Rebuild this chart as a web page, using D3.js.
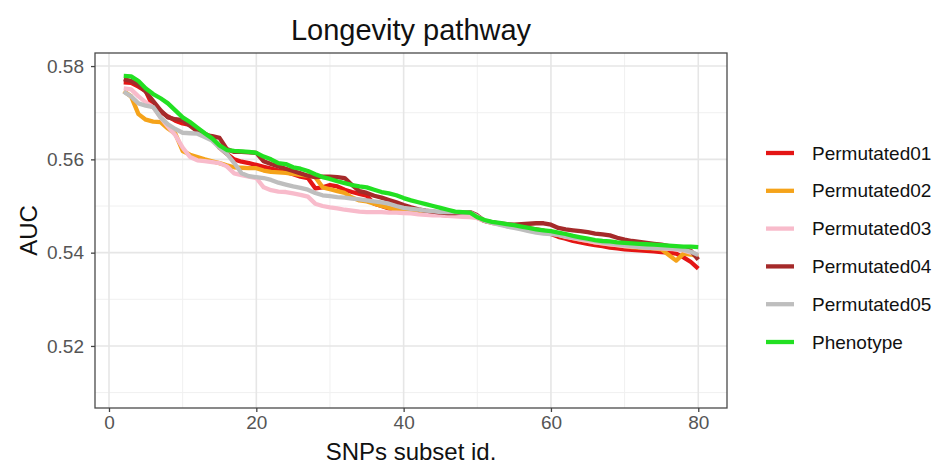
<!DOCTYPE html>
<html>
<head>
<meta charset="utf-8">
<script src="https://cdn.jsdelivr.net/npm/d3@7"></script>
<style>
  html, body { margin: 0; padding: 0; background: #fff; }
  svg { display: block; font-family: "Liberation Sans", Arial, Helvetica, sans-serif; }
</style>
</head>
<body>
<svg id="chart" width="951" height="466"></svg>
<script>
// ---- data ----
const title = "Longevity pathway";
const xLabel = "SNPs subset id.";
const yLabel = "AUC";
const subsetIds = d3.range(2, 81); // 2..80
const xTicks = [0, 20, 40, 60, 80];
const yTicks = [0.52, 0.54, 0.56, 0.58];
const seriesNames = ["Permutated01", "Permutated02", "Permutated03", "Permutated04", "Permutated05", "Phenotype"];
const seriesColors = ["#E41515", "#F5A31A", "#F8BBCB", "#A52A2A", "#BEBEBE", "#22E022"];

const permutated01 = [.5765,.5764,.5756,.5746,.5712,.5702,.5692,.5683,.5677,.5674,.5665,.5655,.5647,.5625,.5612,.5600,.5595,.5592,.5588,.5584,.5580,.5576,.5573,.5568,.5563,.5560,.5538,.5540,.5545,.5542,.5535,.5530,.5526,.5522,.5505,.5500,.5495,.5492,.5490,.5488,.5486,.5485,.5483,.5481,.5480,.5480,.5480,.5480,.5475,.5468,.5465,.5462,.5459,.5456,.5454,.5452,.5450,.5447,.5440,.5434,.5430,.5425,.5422,.5419,.5416,.5414,.5411,.5409,.5407,.5406,.5405,.5404,.5403,.5401,.5400,.5398,.5390,.5380,.5366];
const permutated02 = [.5746,.5735,.5697,.5685,.5681,.5680,.5666,.5655,.5618,.5610,.5605,.5600,.5596,.5592,.5587,.5583,.5582,.5581,.5581,.5576,.5573,.5572,.5571,.5569,.5567,.5565,.5562,.5540,.5536,.5532,.5528,.5518,.5512,.5510,.5505,.5500,.5496,.5492,.5489,.5487,.5486,.5485,.5484,.5484,.5483,.5482,.5481,.5480,.5476,.5468,.5464,.5461,.5458,.5455,.5452,.5450,.5448,.5446,.5443,.5439,.5435,.5431,.5428,.5425,.5422,.5420,.5418,.5416,.5414,.5412,.5411,.5410,.5409,.5407,.5395,.5383,.5398,.5396,.5392];
const permutated03 = [.5752,.5750,.5735,.5722,.5712,.5690,.5670,.5652,.5625,.5605,.5598,.5596,.5594,.5592,.5585,.5570,.5566,.5563,.5560,.5540,.5534,.5531,.5530,.5527,.5524,.5520,.5505,.5500,.5497,.5495,.5492,.5490,.5488,.5487,.5487,.5487,.5486,.5486,.5485,.5484,.5482,.5481,.5480,.5480,.5479,.5478,.5477,.5476,.5474,.5468,.5464,.5461,.5458,.5455,.5452,.5449,.5447,.5445,.5442,.5438,.5434,.5431,.5428,.5425,.5422,.5420,.5418,.5416,.5414,.5413,.5412,.5411,.5410,.5409,.5408,.5407,.5405,.5400,.5395];
const permutated04 = [.5772,.5768,.5760,.5745,.5725,.5705,.5690,.5686,.5684,.5672,.5660,.5652,.5650,.5646,.5622,.5616,.5616,.5615,.5614,.5596,.5590,.5585,.5580,.5575,.5570,.5565,.5562,.5563,.5563,.5562,.5560,.5545,.5532,.5528,.5522,.5518,.5513,.5508,.5502,.5497,.5493,.5490,.5488,.5486,.5485,.5485,.5486,.5487,.5480,.5468,.5465,.5463,.5461,.5460,.5461,.5462,.5463,.5463,.5460,.5453,.5450,.5448,.5446,.5444,.5441,.5439,.5437,.5432,.5428,.5425,.5423,.5421,.5419,.5417,.5414,.5412,.5409,.5404,.5385];
const permutated05 = [.5745,.5735,.5720,.5715,.5712,.5690,.5675,.5665,.5657,.5656,.5655,.5648,.5640,.5625,.5612,.5592,.5570,.5564,.5562,.5560,.5556,.5550,.5546,.5542,.5539,.5535,.5528,.5523,.5521,.5519,.5518,.5516,.5514,.5512,.5510,.5508,.5505,.5500,.5496,.5494,.5492,.5490,.5489,.5487,.5487,.5487,.5486,.5486,.5478,.5468,.5464,.5460,.5456,.5453,.5450,.5446,.5443,.5441,.5440,.5438,.5435,.5432,.5430,.5428,.5425,.5422,.5420,.5418,.5416,.5414,.5412,.5411,.5410,.5410,.5409,.5408,.5406,.5402,.5395];
const phenotype = [.5779,.5778,.5768,.5752,.5740,.5731,.5720,.5705,.5690,.5680,.5668,.5656,.5645,.5630,.5620,.5618,.5617,.5616,.5614,.5606,.5600,.5592,.5590,.5583,.5580,.5575,.5568,.5562,.5558,.5553,.5549,.5545,.5542,.5540,.5535,.5530,.5527,.5523,.5517,.5512,.5508,.5504,.5500,.5496,.5492,.5488,.5487,.5486,.5476,.5470,.5466,.5464,.5461,.5459,.5456,.5453,.5450,.5448,.5446,.5443,.5440,.5436,.5433,.5430,.5427,.5425,.5424,.5422,.5421,.5420,.5419,.5418,.5417,.5416,.5415,.5414,.5413,.5413,.5412];

const seriesValues = [permutated01, permutated02, permutated03, permutated04, permutated05, phenotype];

// ---- layout ----
const svg = d3.select("#chart");
const panel = { left: 95, right: 727, top: 53, bottom: 408 };

const x = d3.scaleLinear().domain([-1.9, 83.9]).range([panel.left, panel.right]);
const y = d3.scaleLinear().domain([0.5067, 0.5828]).range([panel.bottom, panel.top]);

const g = svg.append("g");

g.append("rect")
  .attr("x", panel.left).attr("y", panel.top)
  .attr("width", panel.right - panel.left).attr("height", panel.bottom - panel.top)
  .attr("fill", "#fff");

// minor grid
const xMinor = [10, 30, 50, 70];
const yMinor = [0.51, 0.53, 0.55, 0.57];
g.selectAll(".xminor").data(xMinor).enter().append("line")
  .attr("x1", d => x(d)).attr("x2", d => x(d))
  .attr("y1", panel.top).attr("y2", panel.bottom)
  .attr("stroke", "#F0F0F0").attr("stroke-width", 1);
g.selectAll(".yminor").data(yMinor).enter().append("line")
  .attr("y1", d => y(d)).attr("y2", d => y(d))
  .attr("x1", panel.left).attr("x2", panel.right)
  .attr("stroke", "#F0F0F0").attr("stroke-width", 1);
// major grid
g.selectAll(".xmajor").data(xTicks).enter().append("line")
  .attr("x1", d => x(d)).attr("x2", d => x(d))
  .attr("y1", panel.top).attr("y2", panel.bottom)
  .attr("stroke", "#E6E6E6").attr("stroke-width", 1.6);
g.selectAll(".ymajor").data(yTicks).enter().append("line")
  .attr("y1", d => y(d)).attr("y2", d => y(d))
  .attr("x1", panel.left).attr("x2", panel.right)
  .attr("stroke", "#E6E6E6").attr("stroke-width", 1.6);

// lines
const line = d3.line().x((d, i) => x(subsetIds[i])).y(d => y(d));
seriesValues.forEach((vals, k) => {
  g.append("path")
    .datum(vals)
    .attr("d", line)
    .attr("fill", "none")
    .attr("stroke", seriesColors[k])
    .attr("stroke-width", 4.3)
    .attr("stroke-linejoin", "round")
    .attr("stroke-linecap", "butt");
});

// panel border
g.append("rect")
  .attr("x", panel.left).attr("y", panel.top)
  .attr("width", panel.right - panel.left).attr("height", panel.bottom - panel.top)
  .attr("fill", "none").attr("stroke", "#4a4a4a").attr("stroke-width", 1.3);

// axes
const xAxis = d3.axisBottom(x).tickValues(xTicks).tickSize(4).tickPadding(4).tickFormat(d3.format("d"));
const yAxis = d3.axisLeft(y).tickValues(yTicks).tickSize(4).tickPadding(7).tickFormat(d3.format(".2f"));
const gx = svg.append("g").attr("transform", `translate(0,${panel.bottom})`).call(xAxis);
const gy = svg.append("g").attr("transform", `translate(${panel.left},0)`).call(yAxis);
[gx, gy].forEach(a => {
  a.select(".domain").remove();
  a.selectAll(".tick line").attr("stroke", "#444").attr("stroke-width", 1.3);
  a.selectAll(".tick text").attr("fill", "#555").style("font-size", "19px")
    .style("font-family", '"Liberation Sans", Arial, sans-serif');
});

// titles
svg.append("text").attr("x", 411).attr("y", 40)
  .attr("text-anchor", "middle").style("font-size", "29px").attr("fill", "#111").text(title);
svg.append("text").attr("x", 411).attr("y", 460)
  .attr("text-anchor", "middle").style("font-size", "24px").attr("fill", "#111").text(xLabel);
svg.append("text").attr("transform", `translate(37,${(panel.top + panel.bottom) / 2}) rotate(-90)`)
  .attr("text-anchor", "middle").style("font-size", "24px").attr("fill", "#111").text(yLabel);

// legend
const legend = svg.append("g");
const legendY = d3.scalePoint().domain(seriesNames).range([153, 342]);
seriesNames.forEach((name, k) => {
  const yy = legendY(name);
  legend.append("line").attr("x1", 766).attr("x2", 794).attr("y1", yy).attr("y2", yy)
    .attr("stroke", seriesColors[k]).attr("stroke-width", 4.3);
  legend.append("text").attr("x", 812).attr("y", yy).attr("dy", "0.35em")
    .style("font-size", "19px").attr("fill", "#111").text(name);
});
</script>
</body>
</html>
